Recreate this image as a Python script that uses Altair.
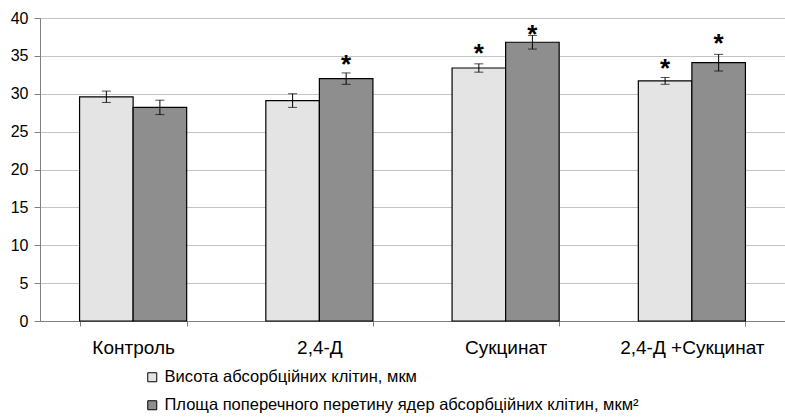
import altair as alt
import pandas as pd

categories = ["Контроль", "2,4-Д", "Сукцинат", "2,4-Д +Сукцинат"]
series = ["Висота абсорбційних клітин, мкм",
          "Площа поперечного перетину ядер абсорбційних клітин, мкм²"]
height_vals = [29.6, 29.1, 33.4, 31.7]
height_err = [0.75, 0.9, 0.55, 0.45]
area_vals = [28.2, 32.0, 36.8, 34.1]
area_err = [0.95, 0.75, 0.9, 1.1]
# asterisk positions (value units); None = no mark
height_star = [None, None, 36.1, 34.1]
area_star = [None, 34.6, 38.6, 37.3]
y_ticks = [0, 5, 10, 15, 20, 25, 30, 35, 40]

rows = []
for i, c in enumerate(categories):
    for s, v, e, st in ((series[0], height_vals[i], height_err[i], height_star[i]),
                        (series[1], area_vals[i], area_err[i], area_star[i])):
        rows.append({"cat": c, "ser": s, "val": v, "lo": v - e, "hi": v + e,
                     "star": st, "lab": "*" if st is not None else ""})
df = pd.DataFrame(rows)

font = "Liberation Sans"

x_axis = alt.Axis(labelAngle=0, labelFontSize=19, labelFont=font,
                  labelColor="black", tickBand="extent", tickSize=5,
                  tickColor="#808080", domainColor="#808080",
                  labelPadding=12, grid=False)
x_scale = alt.Scale(paddingInner=0.425, paddingOuter=0.2125)
y_axis = alt.Axis(values=y_ticks, labelFontSize=16, labelOverlap=False,
                  labelFont=font, labelColor="black", tickSize=6,
                  tickColor="#808080", domainColor="#808080",
                  gridColor="#c4c4c4", labelPadding=6)
y_scale = alt.Scale(domain=[0, 40], nice=False)


def X():
    return alt.X("cat:N", sort=categories, title=None, scale=x_scale, axis=x_axis)


def Y(field):
    return alt.Y(field, title=None, scale=y_scale, axis=y_axis)


xoff = alt.XOffset("ser:N", sort=series)

base = alt.Chart(df)

bars = base.mark_bar(stroke="black", strokeWidth=1.2).encode(
    x=X(),
    xOffset=xoff,
    y=Y("val:Q"),
    fill=alt.Fill("ser:N", sort=series,
                  scale=alt.Scale(domain=series, range=["#e4e4e4", "#8e8e8e"]),
                  legend=alt.Legend(title=None, orient="none", legendX=104,
                                    legendY=351, direction="vertical",
                                    symbolType="square", symbolSize=81,
                                    symbolStrokeColor="black",
                                    symbolStrokeWidth=1, labelFontSize=16.5,
                                    labelFont=font, labelColor="black",
                                    labelLimit=700, rowPadding=11,
                                    labelOffset=4)),
)

err = base.mark_rule(color="black", strokeWidth=1).encode(
    x=X(), xOffset=xoff, y=Y("lo:Q"), y2="hi:Q")
cap_lo = base.mark_tick(color="black", thickness=1, size=9).encode(
    x=X(), xOffset=xoff, y=Y("lo:Q"))
cap_hi = base.mark_tick(color="black", thickness=1, size=9).encode(
    x=X(), xOffset=xoff, y=Y("hi:Q"))

stars = base.transform_filter("datum.star != null").mark_text(
    fontSize=26, fontWeight="bold", font=font, color="black",
    baseline="alphabetic", dy=14).encode(
    x=X(), xOffset=xoff, y=Y("star:Q"), text="lab:N")

chart = alt.layer(bars, err, cap_lo, cap_hi, stars).properties(
    width=745, height=303,
    autosize=alt.AutoSizeParams(type="none"),
    padding={"left": 40, "top": 18, "right": 0, "bottom": 97},
).configure_view(stroke=None).configure(background="white")

chart.save("out.html", embed_options={"renderer": "svg", "actions": False})
